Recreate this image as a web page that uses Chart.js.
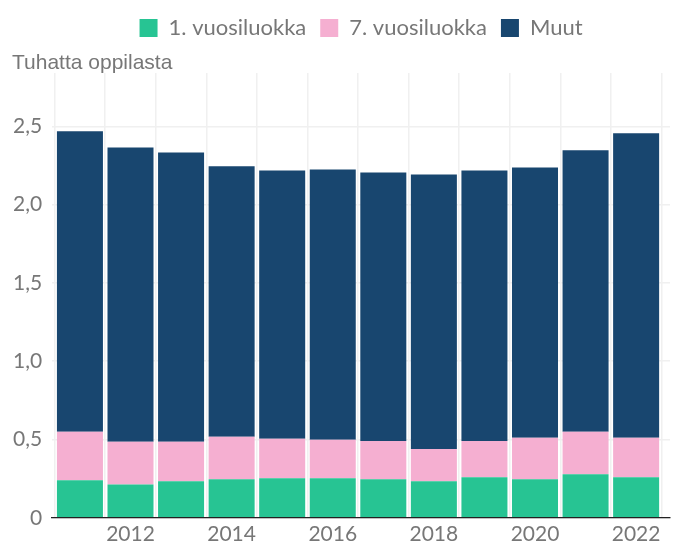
<!DOCTYPE html>
<html>
<head>
<meta charset="utf-8">
<script src="https://cdn.jsdelivr.net/npm/chart.js@4/dist/chart.umd.min.js"></script>
<style>
  html, body { margin: 0; padding: 0; background: #fff; }
  #wrap { position: relative; width: 676px; height: 545px; }
</style>
</head>
<body>
<div id="wrap"><canvas id="chart"></canvas></div>
<script>
// school years shown on the x axis
const years = [2011, 2012, 2013, 2014, 2015, 2016, 2017, 2018, 2019, 2020, 2021, 2022];

// thousands of pupils
const grade1 = [0.239, 0.213, 0.233, 0.246, 0.252, 0.252, 0.246, 0.233, 0.259, 0.246, 0.278, 0.259];
const grade7 = [0.311, 0.272, 0.252, 0.271, 0.252, 0.246, 0.245, 0.207, 0.232, 0.265, 0.272, 0.252];
const others = [1.918, 1.880, 1.848, 1.727, 1.714, 1.726, 1.714, 1.752, 1.727, 1.726, 1.796, 1.944];

const seriesNames = ['1. vuosiluokka', '7. vuosiluokka', 'Muut'];
const xTickYears = [2012, 2014, 2016, 2018, 2020, 2022];
const yTickValues = [0, 0.5, 1, 1.5, 2, 2.5];
const yCaption = 'Tuhatta oppilasta';

const tickFont = { family: 'Lato', size: 21 };
const gray = '#777777';

function points(vals) {
  return years.map((yr, i) => ({ x: yr, y: vals[i] }));
}

// draws the horizontal axis caption and leaves room for it under the legend
const captionPlugin = {
  id: 'caption',
  beforeLayout(chart) {
    const lg = chart.legend;
    if (lg && !lg._padded) {
      const fit = lg.fit;
      lg.fit = function () { fit.call(this); this.height += 24; };
      lg._padded = true;
    }
  },
  afterDraw(chart) {
    const ctx = chart.ctx;
    ctx.save();
    ctx.font = '21px "Liberation Sans"';
    ctx.fillStyle = gray;
    ctx.textAlign = 'left';
    ctx.textBaseline = 'alphabetic';
    ctx.fillText(yCaption, 12, chart.chartArea.top - 4);
    ctx.restore();
  }
};

new Chart(document.getElementById('chart'), {
  type: 'bar',
  data: {
    datasets: [
      { label: seriesNames[0], data: points(grade1), backgroundColor: '#27c493' },
      { label: seriesNames[1], data: points(grade7), backgroundColor: '#f5afd1' },
      { label: seriesNames[2], data: points(others), backgroundColor: '#18466f' }
    ]
  },
  options: {
    responsive: true,
    maintainAspectRatio: false,
    animation: false,
    barPercentage: 1,
    categoryPercentage: 0.91,
    layout: { padding: { left: 3, right: 6, top: 3, bottom: -6 } },
    plugins: {
      tooltip: { enabled: false },
      title: { display: false },
      legend: {
        position: 'top',
        fullSize: false,
        labels: {
          boxWidth: 18,
          boxHeight: 18,
          padding: 14,
          color: gray,
          font: { family: 'Lato', size: 22 }
        }
      }
    },
    scales: {
      x: {
        type: 'linear',
        stacked: true,
        min: 2010.45,
        max: 2022.67,
        offset: false,
        grid: { color: '#f0f0f0', lineWidth: 1.5, drawTicks: false },
        border: { display: true, color: '#222', width: 1.3 },
        ticks: {
          stepSize: 1,
          includeBounds: false,
          autoSkip: false,
          maxRotation: 0,
          padding: 4,
          color: gray,
          font: tickFont,
          callback: v => xTickYears.includes(v) ? String(v) : ''
        }
      },
      y: {
        stacked: true,
        min: 0,
        max: 2.84,
        grid: { color: '#f0f0f0', lineWidth: 1.5, drawTicks: false },
        border: { display: false },
        ticks: {
          stepSize: 0.5,
          includeBounds: false,
          padding: 10,
          color: gray,
          font: tickFont,
          callback: v => yTickValues.includes(v) ? (v === 0 ? '0' : v.toFixed(1).replace('.', ',')) : ''
        }
      }
    }
  },
  plugins: [captionPlugin]
});
</script>
</body>
</html>
